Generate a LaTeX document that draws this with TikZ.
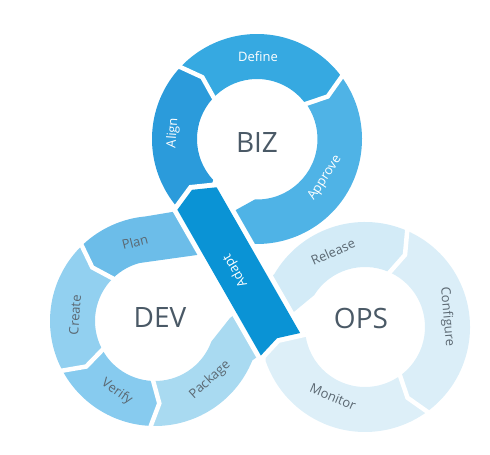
\documentclass[tikz,border=0pt]{standalone}
\usepackage{fontspec}
\setmainfont{Open Sans}
\usetikzlibrary{calc}
\definecolor{cAlign}{HTML}{2B9BDB}
\definecolor{cDefine}{HTML}{36A9E1}
\definecolor{cApprove}{HTML}{4FB3E6}
\definecolor{cAdapt}{HTML}{0A93D5}
\definecolor{cPlan}{HTML}{6CBDE9}
\definecolor{cCreate}{HTML}{92D0F0}
\definecolor{cVerify}{HTML}{87CBEF}
\definecolor{cPackage}{HTML}{A9DAF1}
\definecolor{cRelease}{HTML}{D3EBF7}
\definecolor{cConfigure}{HTML}{DBEEF8}
\definecolor{cMonitor}{HTML}{DDEFF8}
\definecolor{cBig}{HTML}{4A5966}
\definecolor{cSmall}{HTML}{5B6872}
\tikzset{
  sep/.style={draw=white, line width=4.5pt},
  halo/.style={draw=white, line width=10pt},
  biglbl/.style={font=\fontsize{28}{28}\selectfont, text=cBig, inner sep=0pt},
  wlbl/.style={font=\fontsize{13}{13}\selectfont, text=white, inner sep=0pt},
  dlbl/.style={font=\fontsize{13}{13}\selectfont, text=cSmall, inner sep=0pt},
}
\begin{document}
\begin{tikzpicture}[x=1pt,y=1pt]
\useasboundingbox (0,0) rectangle (490,455);
\coordinate (B) at (257,316);
\coordinate (D) at (155,134);
\coordinate (O) at (365,128);
% ---------- BIZ ring ----------
\fill[cAlign] ($(B)+(232:105)$) arc[start angle=232, end angle=137.5, radius=105]
  -- ($(B)+(131.5:82.5)$) -- ($(B)+(137.5:60)$) arc[start angle=137.5, end angle=223, radius=60]
  -- (204.5,243.5) -- cycle;
\fill[cDefine] ($(B)+(137.5:105)$) arc[start angle=137.5, end angle=37, radius=105]
  -- ($(B)+(31:82.5)$) -- ($(B)+(37:60)$) arc[start angle=37, end angle=137.5, radius=60]
  -- ($(B)+(131.5:82.5)$) -- cycle;
\fill[cApprove] ($(B)+(37:105)$) arc[start angle=37, end angle=-92, radius=105]
  -- (231,193) -- (209,231) -- (234,244) -- ($(B)+(-92:60.5)$) arc[start angle=-92, end angle=37, radius=60.5]
  -- ($(B)+(31:82.5)$) -- cycle;
% ---------- DEV ring ----------
\fill[cPlan] (192,251) -- (175,243.5) -- ($(D)+(95:105)$) arc[start angle=95, end angle=133.5, radius=105]
  -- ($(D)+(139.5:82.5)$) -- ($(D)+(133.5:60)$) arc[start angle=133.5, end angle=105, radius=60]
  -- (197,200) -- (214,210) -- cycle;
\fill[cCreate] ($(D)+(133.5:105)$) arc[start angle=133.5, end angle=207.5, radius=105]
  -- ($(D)+(213.5:82.5)$) -- ($(D)+(207.5:60)$) arc[start angle=207.5, end angle=133.5, radius=60]
  -- ($(D)+(139.5:82.5)$) -- cycle;
\fill[cVerify] ($(D)+(207.5:105)$) arc[start angle=207.5, end angle=267, radius=105]
  -- ($(D)+(273:82.5)$) -- ($(D)+(267:60)$) arc[start angle=267, end angle=207.5, radius=60]
  -- ($(D)+(213.5:82.5)$) -- cycle;
\fill[cPackage] ($(D)+(267:105)$) arc[start angle=267, end angle=338, radius=105]
  -- (269.1,106.4) -- (245.2,148.1) -- (230,137) -- ($(D)+(340:60)$) arc[start angle=340, end angle=267, radius=60]
  -- ($(D)+(273:82.5)$) -- cycle;
% ---------- OPS ring ----------
\fill[cRelease] (255.6,170.2) -- ($(O)+(150:105)$) arc[start angle=150, end angle=67, radius=105]
  -- ($(O)+(61:82.5)$) -- ($(O)+(67:60)$) arc[start angle=67, end angle=148, radius=60]
  -- (278.4,130.3) -- cycle;
\fill[cConfigure] ($(O)+(67:105)$) arc[start angle=67, end angle=-53, radius=105]
  -- ($(O)+(-59:82.5)$) -- ($(O)+(-53:60)$) arc[start angle=-53, end angle=67, radius=60]
  -- ($(O)+(61:82.5)$) -- cycle;
\fill[cMonitor] ($(O)+(-53:105)$) arc[start angle=-53, end angle=-161, radius=105]
  -- (265,107.5) -- (275.5,119.4) -- (291,122.5) -- ($(O)+(-175:60)$) arc[start angle=-175, end angle=-53, radius=60]
  -- ($(O)+(-59:82.5)$) -- cycle;
% ---------- separators ----------
\foreach \a/\v in {137.5/131.5, 37/31}
  \draw[sep] ($(B)+(\a:109)$) -- ($(B)+(\v:82.5)$) -- ($(B)+(\a:56)$);
\foreach \a/\v in {133.5/139.5, 207.5/213.5, 267/273}
  \draw[sep] ($(D)+(\a:109)$) -- ($(D)+(\v:82.5)$) -- ($(D)+(\a:56)$);
\foreach \a/\v in {67/61, -53/-59}
  \draw[sep] ($(O)+(\a:109)$) -- ($(O)+(\v:82.5)$) -- ($(O)+(\a:56)$);
% ---------- Adapt strip ----------
\begin{scope}[shift={(197,256.5)}, rotate=-60.2]
  \path[halo] (-10,0) -- (0,22.6) -- (168,22.6) -- (161,0) -- (168,-22.6) -- (0,-22.6) -- cycle;
  \fill[cAdapt] (-10,0) -- (0,22.6) -- (168,22.6) -- (161,0) -- (168,-22.6) -- (0,-22.6) -- cycle;
\end{scope}
% ---------- labels ----------
\node[biglbl] (biz) at (257,312) {BIZ};
\node[biglbl] (dev) at (160,137) {DEV};
\node[biglbl] (ops) at (361,137) {OPS};
\node[wlbl] (define) at (258,398) {Define};
\node[wlbl, rotate=86] (align) at (173,322) {Align};
\node[wlbl, rotate=57] (approve) at (325,277) {Approve};
\node[wlbl, rotate=119.8] (adapt) at (235.5,184) {Adapt};
\node[dlbl, rotate=14] (plan) at (135,213) {Plan};
\node[dlbl, rotate=86] (create) at (75,140) {Create};
\node[dlbl, rotate=-35] (verify) at (117,63) {Verify};
\node[dlbl, rotate=42] (package) at (210,75) {Package};
\node[dlbl, rotate=24] (release) at (333,203) {Release};
\node[dlbl, rotate=-85] (configure) at (447,138) {Configure};
\node[dlbl, rotate=-23] (monitor) at (333,58) {Monitor};
\end{tikzpicture}
\end{document}
